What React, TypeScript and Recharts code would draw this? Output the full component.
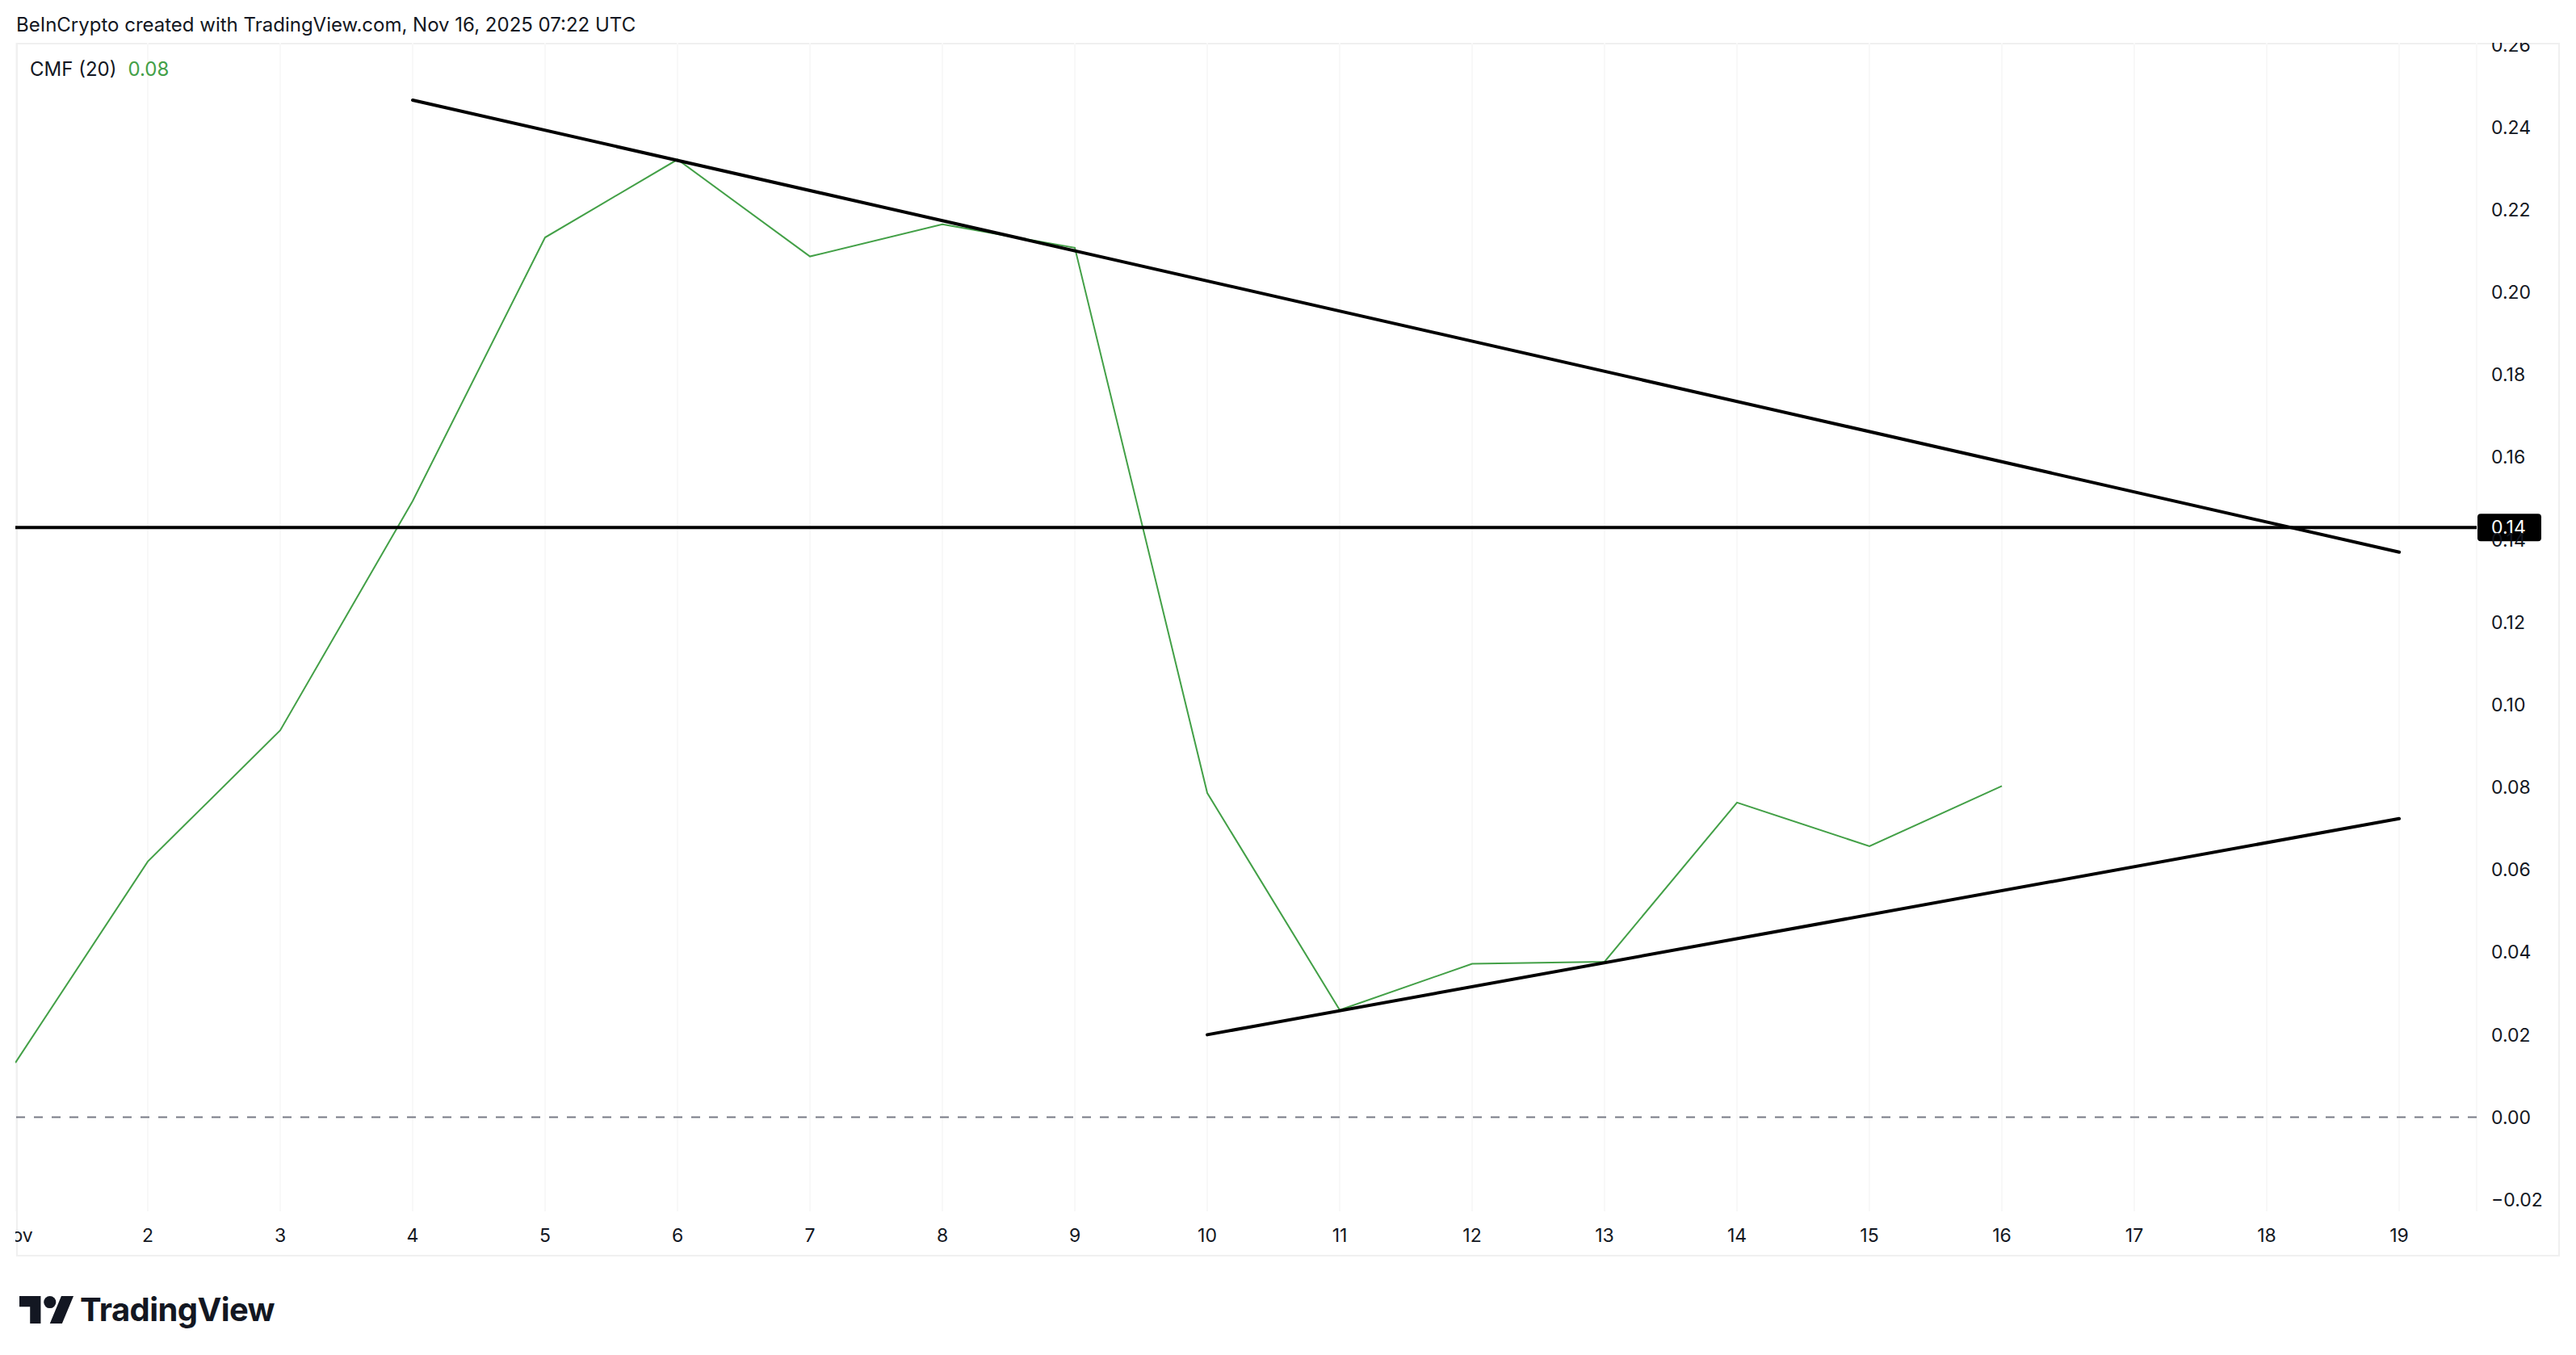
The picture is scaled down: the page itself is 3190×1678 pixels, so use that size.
import React from 'react';
import { LineChart, Line, XAxis, YAxis, CartesianGrid, ReferenceLine } from 'recharts';

// CMF (20) daily values, Nov 1 - Nov 16
const days = [1, 2, 3, 4, 5, 6, 7, 8, 9, 10, 11, 12, 13, 14, 15, 16];
const cmfValues = [0.0132, 0.062, 0.0938, 0.1494, 0.2133, 0.2322, 0.2087, 0.2165, 0.2108, 0.0786, 0.026, 0.0372, 0.0377, 0.0763, 0.0657, 0.0803];

const xTicks = [1, 2, 3, 4, 5, 6, 7, 8, 9, 10, 11, 12, 13, 14, 15, 16, 17, 18, 19];
const yTicks = [-0.02, 0, 0.02, 0.04, 0.06, 0.08, 0.1, 0.12, 0.14, 0.16, 0.18, 0.2, 0.22, 0.24, 0.26];

// drawn trend lines: [day, value]
const upperTrend = [[4, 0.2466], [19, 0.137]];
const lowerTrend = [[10, 0.02], [19, 0.0724]];
const levelValue = 0.143;
const levelLabel = '0.14';

const TEXT = '#131722';
const GREEN = '#43A047';
const FONT = 'Inter, "Noto Sans", sans-serif';

const data = days.map((d, i) => ({ day: d, cmf: cmfValues[i] }));

const fmtY = (v: number) => (v < 0 ? '\u2212' + Math.abs(v).toFixed(2) : v.toFixed(2));

const PriceLabel: React.FC<any> = ({ viewBox }) => {
  if (!viewBox) return null;
  const right = viewBox.x + viewBox.width;
  return (
    <g>
      <rect x={right + 1} y={viewBox.y - 17} width={79} height={34} rx={4} fill="#000" />
      <text x={right + 18} y={viewBox.y} dominantBaseline="central" fill="#fff" fontSize={23} fontFamily={FONT}>
        {levelLabel}
      </text>
    </g>
  );
};

const TvLogo = () => (
  <div style={{ position: 'absolute', left: 24, top: 1597, display: 'flex', alignItems: 'center' }}>
    <svg width={68} height={34} viewBox="0 4 36 18">
      <path d="M14 22H7V11H0V4h14v18zM28 22h-8l7.5-18h8L28 22z" fill="#131722" />
      <circle cx={20} cy={8} r={4} fill="#131722" />
    </svg>
    <span style={{ marginLeft: 7, fontSize: 40, fontWeight: 700, color: TEXT, fontFamily: FONT, letterSpacing: -0.6 }}>
      TradingView
    </span>
  </div>
);

export default function App() {
  return (
    <div style={{ position: 'absolute', left: 0, top: 0, width: 3190, height: 1678, background: '#fff', overflow: 'hidden' }}>
      <div style={{ position: 'absolute', left: 20, top: 16, fontSize: 24, color: TEXT, fontFamily: FONT, whiteSpace: 'nowrap' }}>
        BeInCrypto created with TradingView.com, Nov 16, 2025 07:22 UTC
      </div>
      <div style={{ position: 'absolute', left: 20, top: 53, width: 3150, height: 1503, border: '2px solid #f0f0f0', boxSizing: 'border-box' }} />
      <div style={{ position: 'absolute', left: 19, top: 53 }}>
        <LineChart width={3151} height={1503} data={data} margin={{ top: 0, right: 0, bottom: 0, left: 0 }}>
          <CartesianGrid vertical horizontal={false} stroke="#f8f8f8" strokeWidth={2} />
          <XAxis
            dataKey="day"
            type="number"
            domain={[1, 19.585]}
            ticks={xTicks}
            interval={0}
            allowDataOverflow
            axisLine={false}
            tickLine={false}
            tickSize={0}
            tickMargin={22}
            height={56}
            tickFormatter={(d: number) => (d === 1 ? 'Nov' : String(d))}
            tick={{ fill: TEXT, fontSize: 23, fontFamily: FONT }}
          />
          <YAxis
            orientation="right"
            type="number"
            domain={[-0.0228, 0.2605]}
            ticks={yTicks}
            interval={0}
            allowDataOverflow
            axisLine={false}
            tickLine={false}
            tickSize={0}
            tickMargin={18}
            width={103}
            tickFormatter={fmtY}
            tick={{ fill: TEXT, fontSize: 23, fontFamily: FONT, textAnchor: 'start' }}
          />
          <ReferenceLine y={0} stroke="#787b86" strokeWidth={2} strokeDasharray="11 11" />
          <Line
            type="linear"
            dataKey="cmf"
            stroke={GREEN}
            strokeWidth={2}
            dot={false}
            activeDot={false}
            isAnimationActive={false}
          />
          <ReferenceLine
            segment={upperTrend.map(([x, y]) => ({ x, y }))}
            stroke="#000"
            strokeWidth={4}
            strokeLinecap="round"
            ifOverflow="visible"
          />
          <ReferenceLine
            segment={lowerTrend.map(([x, y]) => ({ x, y }))}
            stroke="#000"
            strokeWidth={4}
            strokeLinecap="round"
            ifOverflow="visible"
          />
          <ReferenceLine y={levelValue} stroke="#000" strokeWidth={4} label={<PriceLabel />} />
        </LineChart>
      </div>
      <div style={{ position: 'absolute', left: 37, top: 71, fontSize: 24, fontFamily: FONT, whiteSpace: 'nowrap' }}>
        <span style={{ color: TEXT }}>CMF (20)</span>
        <span style={{ color: GREEN, marginLeft: 14 }}>0.08</span>
      </div>
      <TvLogo />
    </div>
  );
}
